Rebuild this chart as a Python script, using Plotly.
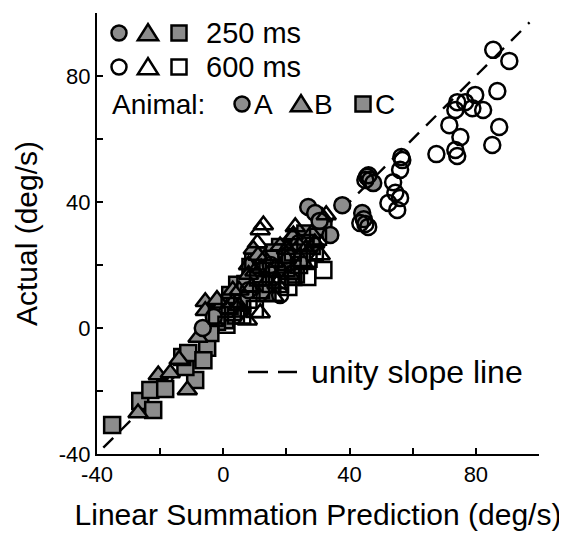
import plotly.graph_objects as go

# ---------------- data (deg/s) ----------------
# Animal A (circles)
a250_x = [26.9, 29.1, 37.7, 44.0, 44.5, 45.5, 46.5, 47.5, 33.9, 30.5, 24.0, -6.5, -3.0, 8.0, 15.0, 20.0]
a250_y = [38.4, 36.5, 39.0, 36.5, 34.5, 48.0, 47.0, 46.0, 29.5, 34.0, 27.0, 0.0, 3.5, 12.0, 20.0, 23.0]
a600_x = [85.5, 90.6, 86.8, 79.8, 76.6, 74.1, 78.9, 82.3, 73.5, 71.6, 87.4, 75.1, 85.2, 73.5, 74.1,
          67.5, 56.4, 56.7, 56.0, 53.8, 54.5, 56.0, 52.3, 55.1, 45.0, 46.0, 43.4, 45.9, 45.0, 18.0]
a600_y = [88.3, 84.8, 75.2, 74.0, 71.7, 71.7, 69.8, 69.2, 69.2, 64.4, 63.8, 60.6, 58.1, 56.5, 54.6,
          55.2, 54.3, 53.3, 50.2, 46.3, 42.9, 41.3, 39.7, 37.5, 47.0, 48.5, 33.3, 32.1, 33.0, 10.5]
# Animal B (triangles)
b250_x = [-27.0, -20.6, -16.8, -11.4, -5.7, -5.7, -8.0, -3.0, 1.0, 5.0, 9.5, 11.0, 14.0, 18.0, 22.0,
          25.0, 31.4, -14.0, 3.0, 28.0, 8.0, 20.0, -2.0, 12.0]
b250_y = [-27.0, -14.9, -14.3, -19.7, 8.3, 5.5, -3.0, 2.0, 6.0, 7.0, 25.0, 23.0, 15.0, 19.0, 29.0,
          21.0, 35.2, -10.0, 12.0, 30.0, 17.0, 25.0, 9.0, 19.0]
b600_x = [12.7, 11.7, 10.8, 22.8, 22.2, 32.6, 30.7, 11.7, 7.6, 20.0, 15.0, 5.0, 3.0, 26.0, 17.0, 29.0, 8.0,
          13.0, 18.0, 9.0, 24.0, 6.0, 16.0, 21.0, 10.0]
b600_y = [32.7, 31.1, 27.0, 32.1, 29.5, 35.9, 23.2, 4.8, 2.5, 22.0, 18.0, 12.0, 8.0, 25.0, 14.0, 27.0, 20.0,
          22.0, 26.0, 13.0, 26.0, 5.0, 10.0, 17.0, 18.0]
# Animal C (squares)
c250_x = [-35.2, -26.3, -22.2, -23.1, -18.4, -8.9, -12.0, -13.0, -11.1, -5.1, -6.3, 0.6, -2.0, -4.1, 4.4, 2.2,
          8.6, 9.5, 13.3, 18.0, 19.0, 23.4, 31.7, 28.0, 22.2, 16.0, 10.0, 6.0, 25.0, 3.0, 14.0, -1.0,
          12.0, 20.0, 7.0, 26.0, 16.0]
c250_y = [-30.8, -23.2, -26.0, -19.7, -19.4, -16.5, -12.4, -9.2, -7.9, -6.3, -10.2, 2.5, 2.0, -1.6, 13.7, 10.5,
          19.4, 21.0, 17.5, 25.7, 24.0, 28.9, 32.1, 26.0, 16.2, 20.0, 15.0, 8.0, 22.0, 5.0, 11.0, 6.0,
          23.0, 19.0, 14.0, 30.0, 24.0]
c600_x = [31.7, 26.6, 20.6, 29.0, 24.0, 15.0, 8.0, 10.0, 4.0, 1.0, -2.0, 17.0, 12.0, 26.0, 20.0, 30.0,
          14.0, 18.0, 22.0, 27.0, 6.0, 11.0, 23.0, 2.0, 16.0]
c600_y = [18.4, 16.2, 13.0, 24.0, 20.0, 14.0, 9.0, 6.0, 4.0, 1.0, 4.0, 17.0, 12.0, 27.0, 21.0, 29.0,
          19.0, 14.0, 24.0, 22.0, 4.0, 16.0, 17.0, 7.0, 22.0]

unity_range = [-38, 97]

tick_vals = [-40, -20, 0, 20, 40, 60, 80, 100]
tick_text = ["-40", "", "0", "", "40", "", "80", ""]

GRAY = "#8c8c8c"
FONT = "Liberation Sans, Arial, Helvetica, sans-serif"
MS = 16
LW = 2.5

fig = go.Figure()

fig.add_trace(go.Scatter(x=unity_range, y=unity_range, mode="lines",
                         line=dict(color="black", width=2.4, dash="14px,10px"),
                         showlegend=False, hoverinfo="skip"))

def add(xs, ys, symbol, filled):
    fig.add_trace(go.Scatter(
        x=xs, y=ys, mode="markers", showlegend=False,
        marker=dict(symbol=symbol, size=MS + (1 if symbol.startswith("triangle") else 0),
                    color=GRAY if filled else "rgba(0,0,0,0)",
                    line=dict(color="black", width=LW))))

add(c250_x, c250_y, "square", True)
add(b250_x, b250_y, "triangle-up", True)
add(a250_x, a250_y, "circle", True)
add(c600_x, c600_y, "square", False)
add(b600_x, b600_y, "triangle-up", False)
add(a600_x, a600_y, "circle", False)

# ---------------- custom legend (paper coords from page pixels) ----------------
OFF = 8  # page body margin
L, T, PW, PH = 97, 13, 442, 441
def px(xp):
    return (xp - L) / PW
def py(yp):
    return (T + PH - yp) / PH

shapes = []
def circ(cx, cy, r, fill):
    shapes.append(dict(type="circle", xref="paper", yref="paper",
                       x0=px(cx - r), x1=px(cx + r), y0=py(cy + r), y1=py(cy - r),
                       fillcolor=fill, line=dict(color="black", width=LW)))
def sq(cx, cy, r, fill):
    shapes.append(dict(type="rect", xref="paper", yref="paper",
                       x0=px(cx - r), x1=px(cx + r), y0=py(cy + r), y1=py(cy - r),
                       fillcolor=fill, line=dict(color="black", width=LW)))
def tri(cx, cy, r, fill):
    w = r * 1.2
    path = "M {} {} L {} {} L {} {} Z".format(px(cx - w), py(cy + r * 0.85),
                                             px(cx + w), py(cy + r * 0.85),
                                             px(cx), py(cy - r * 1.05))
    shapes.append(dict(type="path", xref="paper", yref="paper", path=path,
                       fillcolor=fill, line=dict(color="black", width=LW)))

for (yy, fill) in [(33, GRAY), (67, "white")]:
    circ(119, yy, 7.5, fill)
    tri(148, yy, 8.5, fill)
    sq(179, yy, 7.5, fill)
circ(242, 104, 7.5, GRAY)
tri(301, 104, 8.5, GRAY)
sq(363, 104, 7.5, GRAY)

for (x0, x1) in [(248, 268), (278, 297)]:
    shapes.append(dict(type="line", xref="paper", yref="paper",
                       x0=px(x0), x1=px(x1), y0=py(372), y1=py(372),
                       line=dict(color="black", width=2.5)))

annots = []
def txt(x, y, s, size=28):
    annots.append(dict(text=s, x=px(x), y=py(y), xref="paper", yref="paper",
                       xanchor="left", yanchor="middle", showarrow=False,
                       font=dict(family=FONT, size=size, color="black")))
txt(204, 33, "250 ms", 29)
txt(204, 67, "600 ms", 29)
txt(110, 104, "Animal:")
txt(252, 104, "A")
txt(312, 104, "B")
txt(373, 104, "C")
txt(309, 372, "unity slope line", 32)

axis_common = dict(range=[-40, 100], tickvals=tick_vals, ticktext=tick_text,
                   showline=True, linecolor="black", linewidth=2,
                   ticks="inside", ticklen=6, tickwidth=2, tickcolor="black",
                   showgrid=False, zeroline=False, mirror=False,
                   tickfont=dict(family=FONT, size=22, color="black"))

W, H = 567 - OFF, 535 - OFF
fig.update_layout(
    width=W, height=H,
    margin=dict(l=L - OFF, r=W - (L - OFF) - PW, t=T - OFF, b=H - (T - OFF) - PH),
    plot_bgcolor="white", paper_bgcolor="white",
    xaxis=dict(**axis_common,
               title=dict(text="Linear Summation Prediction (deg/s)",
                          font=dict(family=FONT, size=30, color="black"), standoff=18)),
    yaxis=dict(**axis_common,
               title=dict(text="Actual (deg/s)",
                          font=dict(family=FONT, size=30, color="black"), standoff=12)),
    shapes=shapes, annotations=annots,
    showlegend=False,
)

fig.write_html("out.html")
